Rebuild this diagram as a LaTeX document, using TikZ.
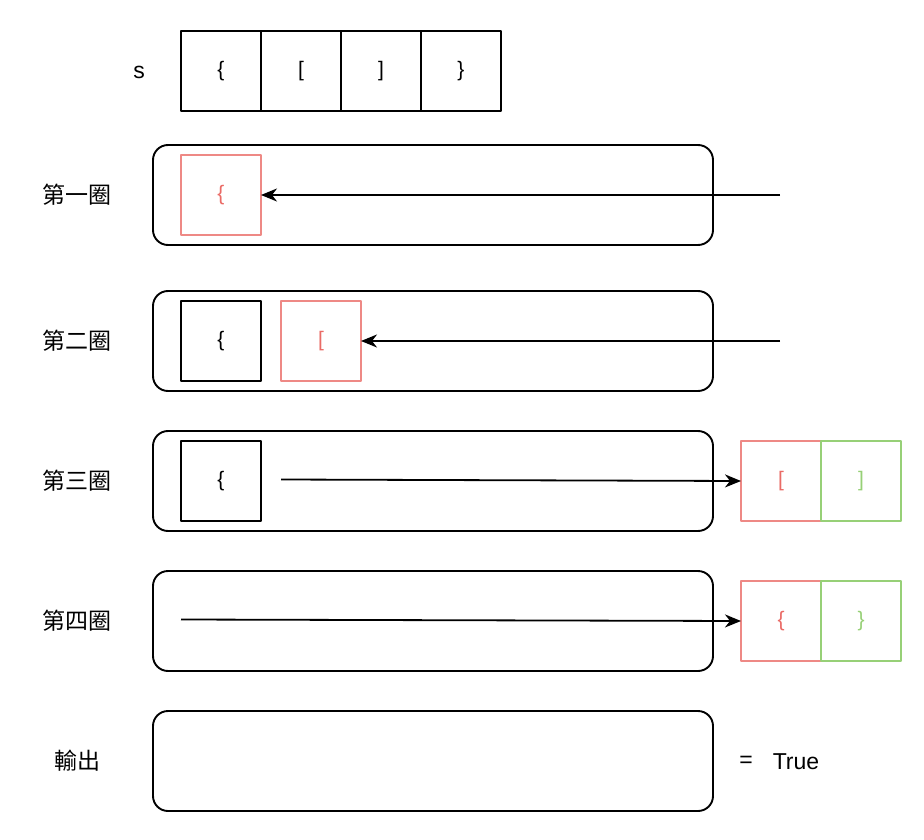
\documentclass[tikz,border=0pt]{standalone}
\usepackage{fontspec}
\setmainfont{Liberation Sans}
\newfontfamily\cjk{Noto Sans CJK TC}
\usetikzlibrary{positioning,arrows.meta}
\definecolor{pushred}{HTML}{EA6B66}
\definecolor{popgreen}{HTML}{97D077}
\tikzset{
  cell/.style={draw, minimum size=80pt, inner sep=0pt, outer sep=0pt, line width=1.8pt, font=\fontsize{21}{24}\selectfont},
  redcell/.style={cell, draw=pushred!80, text=pushred},
  greencell/.style={cell, draw=popgreen, text=popgreen},
  loopbox/.style={draw, rounded corners=15pt, minimum width=560pt, minimum height=100pt, line width=1.9pt},
  steplabel/.style={font=\cjk\fontsize{23}{26}\selectfont},
  plain/.style={font=\fontsize{23}{26}\selectfont},
  move/.style={-{Stealth[length=16pt, width=13pt, inset=5pt]}, line width=1.8pt},
}
\begin{document}
\begin{tikzpicture}[x=1pt, y=-1pt, line join=round]
	\useasboundingbox (0,0) rectangle (924,840);
	% the string
	\node[plain] (s) at (139,72) {s};
	\node[cell] (s1) at (221,71) {\{};
	\node[cell, right=0pt of s1] (s2) {[};
	\node[cell, right=0pt of s2] (s3) {]};
	\node[cell, right=0pt of s3] (s4) {\}};
	% rounds
	\node[loopbox] (r1) at (433,195) {};
	\node[loopbox] (r2) at (433,341) {};
	\node[loopbox] (r3) at (433,481) {};
	\node[loopbox] (r4) at (433,621) {};
	\node[loopbox] (out) at (433,761) {};
	\node[steplabel] at (77,195) {第一圈};
	\node[steplabel] at (77,341) {第二圈};
	\node[steplabel] at (77,481) {第三圈};
	\node[steplabel] at (77,621) {第四圈};
	\node[steplabel] at (77,761) {輸出};
	% round 1
	\node[redcell] (a1) at (221,195) {\{};
	\coordinate (in1) at (780,195);
	\draw[move] (in1) -- (a1);
	% round 2
	\node[cell] (b1) at (221,341) {\{};
	\node[redcell] (b2) at (321,341) {[};
	\coordinate (in2) at (780,341);
	\draw[move] (in2) -- (b2);
	% round 3
	\node[cell] (c1) at (221,481) {\{};
	\node[redcell] (c2) at (781,481) {[};
	\node[greencell, right=0pt of c2] (c3) {]};
	\coordinate (from3) at (281,479.5);
	\draw[move] (from3) -- (c2.west);
	% round 4
	\node[redcell] (d1) at (781,621) {\{};
	\node[greencell, right=0pt of d1] (d2) {\}};
	\coordinate (from4) at (181,619.5);
	\draw[move] (from4) -- (d1.west);
	% output
	\node[plain] (eq) at (746,762) {=};
	\node[plain, right=13pt of eq] (res) {True};
\end{tikzpicture}
\end{document}
